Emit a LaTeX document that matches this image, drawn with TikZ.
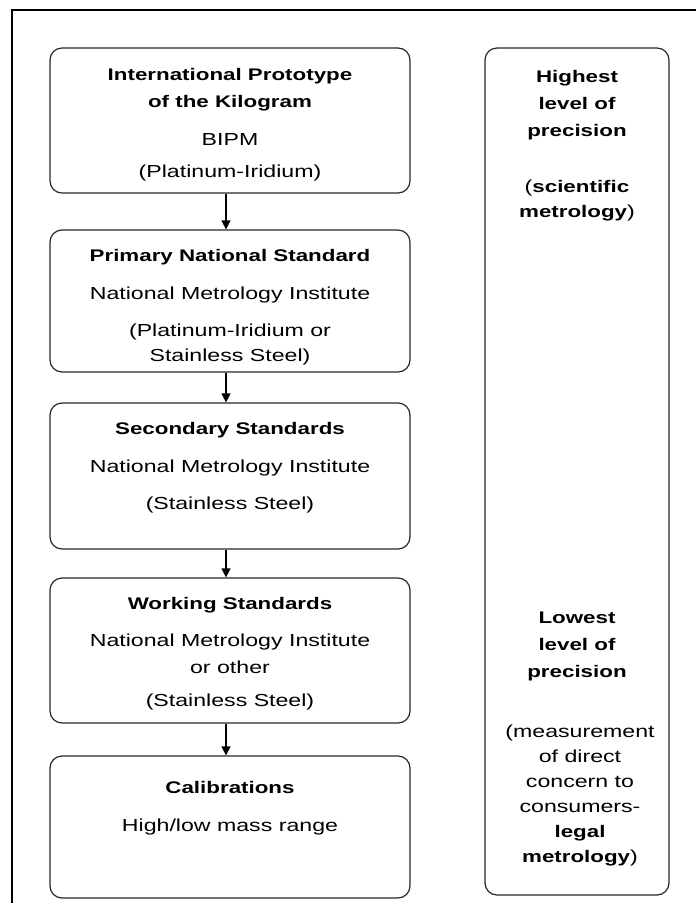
\documentclass[tikz,border=0pt]{standalone}
\usepackage{fontspec}
\setmainfont{Liberation Sans}[FakeStretch=1.33]
\usetikzlibrary{arrows.meta}
\newcommand{\hdfont}{\fontsize{16.8}{27}\selectfont\bfseries}
\newcommand{\txfont}{\fontsize{17.4}{25}\selectfont}
\tikzset{
  stdbox/.style={draw=black!85, line width=1.2pt, rounded corners=12pt,
    minimum width=360pt, inner sep=0pt},
  lvlbox/.style={draw=black!85, line width=1.2pt, rounded corners=12pt,
    minimum width=184pt, minimum height=847pt, inner sep=0pt},
  hd/.style={align=center, inner sep=0pt, font=\hdfont},
  tx/.style={align=center, inner sep=0pt, font=\txfont},
  down/.style={line width=1.2pt, -{Triangle[width=9pt,length=9pt]}}
}
\begin{document}
\begin{tikzpicture}[x=1pt, y=-1pt]
\useasboundingbox (0,0) rectangle (696,903);
%%% The outer frame (cut at the right and bottom)
\draw[line width=2.5pt] (12,920) |- (720,10);
%%% The chain of mass standards
\node[stdbox, minimum height=145pt] (proto) at (230,120.5) {};
\node[stdbox, minimum height=142pt] (primary) at (230,301) {};
\node[stdbox, minimum height=146pt] (secondary) at (230,476) {};
\node[stdbox, minimum height=145pt] (working) at (230,650.5) {};
\node[stdbox, minimum height=142pt] (calib) at (230,827) {};
%%% The precision scale on the right
\node[lvlbox] (level) at (577,471.5) {};
%%%%%% Texts of the first box
\node[hd] (protoT) at (230,89.5) {International Prototype\\of the Kilogram};
\node[tx] (protoA) at (230,140) {BIPM};
\node[tx] (protoM) at (230,173) {(Platinum-Iridium)};
%%%%%% Texts of the second box
\node[hd] (primaryT) at (230,257) {Primary National Standard};
\node[tx] (primaryA) at (230,295) {National Metrology Institute};
\node[tx] (primaryM) at (230,344.5) {(Platinum-Iridium or\\Stainless Steel)};
%%%%%% Texts of the third box
\node[hd] (secondaryT) at (230,430) {Secondary Standards};
\node[tx] (secondaryA) at (230,468) {National Metrology Institute};
\node[tx] (secondaryM) at (230,505) {(Stainless Steel)};
%%%%%% Texts of the fourth box
\node[hd] (workingT) at (230,605) {Working Standards};
\node[tx, font=\fontsize{17.4}{27}\selectfont] (workingA) at (230,653.5) {National Metrology Institute\\or other};
\node[tx] (workingM) at (230,702) {(Stainless Steel)};
%%%%%% Texts of the last box
\node[hd] (calibT) at (230,787) {Calibrations};
\node[tx] (calibA) at (230,827) {High/low mass range};
%%%%%% Texts of the precision scale
\node[hd] (highT) at (577,105) {Highest\\level of\\precision};
\node[tx] (highA) at (577,200.5) {({\hdfont scientific}\\{\hdfont metrology})};
\node[hd] (lowT) at (577,646) {Lowest\\level of\\precision};
\node[tx] (lowA) at (580,795.5) {(measurement\\of direct\\concern to\\consumers-\\{\hdfont legal}\\{\hdfont metrology})};
%%%%%% The arrows between the standards
\draw[down] ([xshift=-4pt]proto.south) -- ([xshift=-4pt]primary.north);
\draw[down] ([xshift=-4pt]primary.south) -- ([xshift=-4pt]secondary.north);
\draw[down] ([xshift=-4pt]secondary.south) -- ([xshift=-4pt]working.north);
\draw[down] ([xshift=-4pt]working.south) -- ([xshift=-4pt]calib.north);
\end{tikzpicture}
\end{document}
